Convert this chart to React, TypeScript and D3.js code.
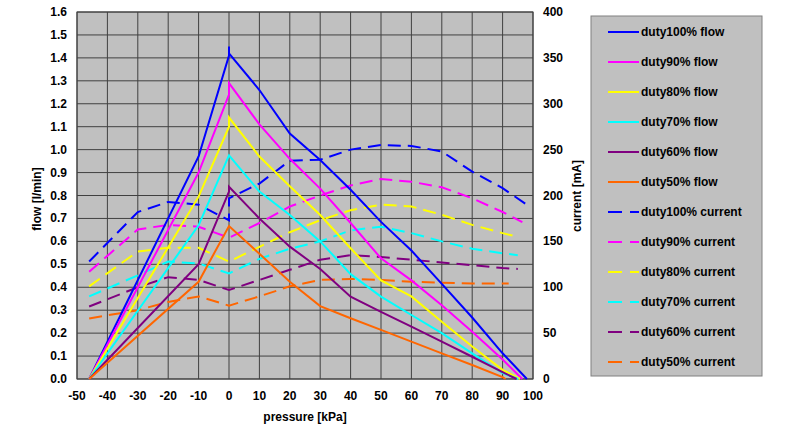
import React from 'react'
import * as d3 from 'd3'

// [pressure kPa, flow l/min]
const flow100 = [[-46, 0], [-10, 0.97], [0, 1.41], [0, 1.45], [0, 1.42], [10, 1.26], [20, 1.07], [30, 0.955], [40, 0.825], [50, 0.685], [60, 0.56], [70, 0.415], [80, 0.268], [90, 0.112], [98, 0]]
const flow90 = [[-46, 0], [-10, 0.9], [0, 1.24], [0, 1.29], [10, 1.11], [20, 0.96], [30, 0.83], [40, 0.68], [50, 0.526], [60, 0.43], [70, 0.322], [80, 0.206], [90, 0.085], [96.5, 0]]
const flow80 = [[-46, 0], [-10, 0.795], [0, 1.1], [0, 1.14], [10, 0.97], [20, 0.84], [30, 0.715], [40, 0.57], [50, 0.43], [60, 0.36], [70, 0.25], [80, 0.142], [90, 0.04], [95.7, 0]]
const flow70 = [[-46, 0], [-10, 0.67], [0, 0.975], [10, 0.817], [20, 0.715], [30, 0.6], [40, 0.457], [50, 0.359], [60, 0.279], [70, 0.2], [80, 0.112], [90, 0.026], [95.2, 0]]
const flow60 = [[-46, 0], [-10, 0.5], [0, 0.817], [0, 0.838], [10, 0.7], [20, 0.577], [30, 0.48], [40, 0.359], [50, 0.293], [60, 0.228], [70, 0.163], [80, 0.097], [90, 0.03], [94.6, 0]]
const flow50 = [[-46, 0], [-10, 0.424], [0, 0.667], [10, 0.546], [20, 0.424], [30, 0.318], [40, 0.265], [50, 0.214], [60, 0.163], [70, 0.112], [80, 0.061], [90, 0.008], [91, 0]]

// [pressure kPa, current mA]
const cur100 = [[-46, 128], [-30, 182], [-20, 193], [-10, 190], [0, 173], [0, 197], [10, 213], [20, 238], [30, 239], [40, 250], [50, 255], [60, 254], [70, 248], [80, 226], [90, 208], [97.5, 191]]
const cur90 = [[-46, 117], [-30, 163], [-20, 168], [-10, 166], [0, 154], [10, 170], [20, 188], [30, 200], [40, 211], [50, 218], [60, 215], [70, 209], [80, 197], [90, 182], [96.5, 171]]
const cur80 = [[-46, 101], [-30, 139], [-20, 143], [-10, 143], [0, 128], [10, 144], [20, 160], [30, 173], [40, 184], [50, 190], [60, 188], [70, 179], [80, 168], [90, 159], [95, 155]]
const cur70 = [[-46, 90], [-30, 113], [-20, 128], [-10, 126], [0, 115], [10, 131], [20, 142], [30, 150], [40, 162], [50, 166], [60, 159], [70, 150], [80, 142], [90, 137], [95, 135]]
const cur60 = [[-46, 79], [-30, 100], [-20, 111], [-10, 108], [0, 97], [10, 108], [20, 119], [30, 130], [40, 135], [50, 133], [60, 130], [70, 127], [80, 124], [90, 121], [95, 120]]
const cur50 = [[-46, 66], [-30, 75], [-20, 84], [-10, 90], [0, 80], [10, 90], [20, 101], [30, 108], [40, 109], [50, 108], [60, 106], [70, 105], [80, 104], [92, 104]]

const duties = ['100', '90', '80', '70', '60', '50']
const colors = ['#0000FF', '#FF00FF', '#FFFF00', '#00FFFF', '#800080', '#FF6600']
const flowSeries = [flow100, flow90, flow80, flow70, flow60, flow50]
const currentSeries = [cur100, cur90, cur80, cur70, cur60, cur50]

const xTicks = d3.range(-50, 101, 10)
const flowTicks = d3.range(0, 1.61, 0.1)
const currentTicks = d3.range(0, 401, 50)

const FONT = 'Arial, "Liberation Sans", sans-serif'
const GRID = '#404040'

export default function App() {
  const width = 800
  const height = 432
  const plot = { left: 77, right: 533, top: 12, bottom: 379 }

  const x = d3.scaleLinear().domain([-50, 100]).range([plot.left, plot.right])
  const yFlow = d3.scaleLinear().domain([0, 1.6]).range([plot.bottom, plot.top])
  const yCur = d3.scaleLinear().domain([0, 400]).range([plot.bottom, plot.top])

  const flowLine = d3.line<number[]>().x(d => x(d[0])).y(d => yFlow(d[1]))
  const curLine = d3.line<number[]>().x(d => x(d[0])).y(d => yCur(d[1]))

  const legendItems = [
    ...duties.map((d, i) => ({ label: `duty${d}% flow`, color: colors[i], dashed: false })),
    ...duties.map((d, i) => ({ label: `duty${d}% current`, color: colors[i], dashed: true }))
  ]

  return (
    <svg width={width} height={height}
      style={{ position: 'absolute', left: 0, top: 0, background: 'white', fontFamily: FONT }}>
      {/* plot area */}
      <rect x={plot.left} y={plot.top} width={plot.right - plot.left} height={plot.bottom - plot.top} fill="#C0C0C0" />
      {xTicks.map(t => (
        <line key={'gx' + t} x1={x(t)} x2={x(t)} y1={plot.top} y2={plot.bottom} stroke={GRID} strokeWidth={1} />
      ))}
      {flowTicks.map(t => (
        <line key={'gy' + t} x1={plot.left} x2={plot.right} y1={yFlow(t)} y2={yFlow(t)} stroke={GRID} strokeWidth={1} />
      ))}
      <rect x={plot.left} y={plot.top} width={plot.right - plot.left} height={plot.bottom - plot.top} fill="none" stroke={GRID} strokeWidth={1} />

      {/* series */}
      {currentSeries.map((s, i) => (
        <path key={'c' + i} d={curLine(s) || ''} fill="none" stroke={colors[i]} strokeWidth={2} strokeDasharray="13,7" />
      ))}
      {flowSeries.map((s, i) => (
        <path key={'f' + i} d={flowLine(s) || ''} fill="none" stroke={colors[i]} strokeWidth={2} strokeLinejoin="miter" />
      ))}

      {/* axes labels */}
      <g fontSize={12} fontWeight="bold" fill="#000">
        {xTicks.map(t => (
          <text key={'xt' + t} x={x(t)} y={400} textAnchor="middle">{t}</text>
        ))}
        {flowTicks.map(t => (
          <text key={'yt' + t} x={67} y={yFlow(t)} textAnchor="end" dominantBaseline="central">{d3.format('.1f')(t)}</text>
        ))}
        {currentTicks.map(t => (
          <text key={'ct' + t} x={543} y={yCur(t)} textAnchor="start" dominantBaseline="central">{t}</text>
        ))}
        <text x={(plot.left + plot.right) / 2} y={421} textAnchor="middle">pressure [kPa]</text>
        <text transform="translate(37,199) rotate(-90)" textAnchor="middle" dominantBaseline="central">flow [l/min]</text>
        <text transform="translate(577,196) rotate(-90)" textAnchor="middle" dominantBaseline="central">current [mA]</text>
      </g>

      {/* legend */}
      <rect x={591} y={16} width={171} height={360} fill="#C0C0C0" stroke="#808080" strokeWidth={1} />
      {legendItems.map((item, i) => {
        const y = 32 + i * 30
        return (
          <g key={'lg' + i}>
            {item.dashed ? (
              <>
                <line x1={608} x2={622} y1={y} y2={y} stroke={item.color} strokeWidth={2} />
                <line x1={630} x2={639} y1={y} y2={y} stroke={item.color} strokeWidth={2} />
              </>
            ) : (
              <line x1={608} x2={639} y1={y} y2={y} stroke={item.color} strokeWidth={2} />
            )}
            <text x={641} y={y} fontSize={12} fontWeight="bold" dominantBaseline="central">{item.label}</text>
          </g>
        )
      })}
    </svg>
  )
}
